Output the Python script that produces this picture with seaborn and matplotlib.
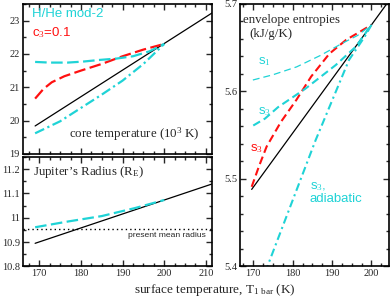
import numpy as np
import pandas as pd
import matplotlib
matplotlib.use("Agg")
import matplotlib.pyplot as plt
import seaborn as sns
from matplotlib.ticker import MultipleLocator, FuncFormatter

# ---- data ----
# core temperature (10^3 K)
tc_black_t = [169, 212]
tc_black_v = [19.84, 23.27]
tc_red_t = [169, 171, 173, 176, 180, 185, 190, 195, 200]
tc_red_v = [20.66, 20.95, 21.15, 21.33, 21.5, 21.7, 21.93, 22.13, 22.3]
tc_cyan_t = [169, 172.5, 176.8, 180.5, 184.5, 188.5, 192.5, 196.5, 200]
tc_cyan_v = [21.76, 21.74, 21.74, 21.77, 21.82, 21.86, 21.93, 22.08, 22.3]
tc_adia_t = [169, 175, 180.5, 185, 190, 195, 200]
tc_adia_v = [19.62, 19.98, 20.42, 20.78, 21.2, 21.7, 22.3]

# Jupiter radius (R_E)
r_black_t = [169, 212]
r_black_v = [10.895, 11.142]
r_cyan_t = [169, 177, 185, 193, 200]
r_cyan_v = [10.961, 10.985, 11.007, 11.04, 11.073]
r_present = 10.955

# envelope entropies (kJ/g/K)
s_black_t = [169.6, 205]
s_black_v = [5.488, 5.707]
s_red_t = [169.6, 171.5, 173.4, 177, 180.9, 184.7, 189.3, 193.6, 197, 200]
s_red_v = [5.491, 5.515, 5.537, 5.565, 5.590, 5.617, 5.643, 5.659, 5.668, 5.676]
s1_t = [169.9, 175, 181, 187, 192.6, 196.5, 200]
s1_v = [5.613, 5.619, 5.628, 5.641, 5.655, 5.664, 5.676]
s3_t = [170, 173, 176.3, 183.2, 190.9, 196, 200]
s3_v = [5.561, 5.569, 5.582, 5.603, 5.630, 5.651, 5.676]
s3ad_t = [173.0, 185.8, 194.3, 198.2, 200]
s3ad_v = [5.393, 5.544, 5.636, 5.662, 5.676]

sns.set_theme(style="ticks")
plt.rcParams['font.family'] = ['Liberation Serif', 'DejaVu Serif']
plt.rcParams['mathtext.fontset'] = 'custom'
plt.rcParams['mathtext.rm'] = 'Liberation Serif'
plt.rcParams['mathtext.it'] = 'Liberation Serif:italic'
plt.rcParams['axes.linewidth'] = 1.2

CYAN = '#1fd3d6'
RED = '#ff1010'
SANS = ['Liberation Sans', 'DejaVu Sans']

fig = plt.figure(figsize=(3.9, 2.99), dpi=100)
ax1 = fig.add_axes([0.058, 0.485, 0.486, 0.502])
ax2 = fig.add_axes([0.058, 0.109, 0.486, 0.366])
ax3 = fig.add_axes([0.615, 0.109, 0.382, 0.878])

dash_l = (0, (5.2, 2.0))
dot_l = (0, (4.5, 1.6, 1.0, 1.6))
dash_r = (0, (3.8, 2.0))
dot_r = (0, (3.8, 1.8, 1.0, 1.8))


def line(ax, t, v, color, lw, ls):
    sns.lineplot(x=t, y=v, ax=ax, color=color, lw=lw, linestyle=ls)


# core temperature
line(ax1, tc_black_t, tc_black_v, 'black', 0.9, '-')
line(ax1, tc_red_t, tc_red_v, RED, 1.6, dash_l)
line(ax1, tc_cyan_t, tc_cyan_v, CYAN, 1.6, dash_l)
line(ax1, tc_adia_t, tc_adia_v, CYAN, 1.6, dot_l)
ax1.set_xlim(166, 211.5)
ax1.set_ylim(19, 23.5)
ax1.yaxis.set_major_locator(MultipleLocator(1))
ax1.yaxis.set_minor_locator(MultipleLocator(0.5))
ax1.tick_params(labelbottom=False)
ax1.text(0.05, 0.93, 'H/He mod-2', color=CYAN, family=SANS, fontsize=9.5,
         transform=ax1.transAxes, va='center')
ax1.text(0.05, 0.81, r'c$_3$=0.1', color=RED, family=SANS, fontsize=9.5,
         transform=ax1.transAxes, va='center')
ax1.text(0.933, 0.135, r'core temperature (10$^3$ K)', fontsize=9.3,
         transform=ax1.transAxes, ha='right', va='center')

# radius
line(ax2, r_black_t, r_black_v, 'black', 0.9, '-')
line(ax2, r_cyan_t, r_cyan_v, CYAN, 1.6, dash_l)
ax2.axhline(r_present, color='black', lw=1.0, linestyle=(0, (1, 2.2)))
ax2.set_xlim(166, 211.5)
ax2.set_ylim(10.8, 11.25)
ax2.yaxis.set_major_locator(MultipleLocator(0.1))
ax2.yaxis.set_minor_locator(MultipleLocator(0.05))
ax2.yaxis.set_major_formatter(FuncFormatter(lambda v, p: f'{v:g}'))
ax2.text(0.055, 0.86, r'Jupiter’s Radius (R$_\mathrm{E}$)', fontsize=9.3,
         transform=ax2.transAxes, va='center')
ax2.text(0.965, 0.285, 'present mean radius', family=SANS, fontsize=6.1,
         transform=ax2.transAxes, ha='right', va='center')

# entropies
line(ax3, s_black_t, s_black_v, 'black', 0.9, '-')
line(ax3, s_red_t, s_red_v, RED, 1.5, dash_r)
line(ax3, s1_t, s1_v, CYAN, 0.9, (0, (5.5, 3.2)))
line(ax3, s3_t, s3_v, CYAN, 1.5, dash_r)
line(ax3, s3ad_t, s3ad_v, CYAN, 1.5, dot_r)
ax3.set_xlim(166.6, 204.4)
ax3.set_ylim(5.4, 5.7)
ax3.yaxis.set_major_locator(MultipleLocator(0.1))
ax3.yaxis.set_minor_locator(MultipleLocator(0.02))
ax3.text(0.022, 0.937, 'envelope entropies', fontsize=9.3, transform=ax3.transAxes, va='center')
ax3.text(0.067, 0.887, '(kJ/g/K)', fontsize=9.3, transform=ax3.transAxes, va='center')
ax3.text(0.121, 0.779, r's$_1$', color=CYAN, family=SANS, fontsize=9.5, transform=ax3.transAxes, va='center')
ax3.text(0.121, 0.588, r's$_3$', color=CYAN, family=SANS, fontsize=9.5, transform=ax3.transAxes, va='center')
ax3.text(0.067, 0.45, r's$_3$', color=RED, family=SANS, fontsize=9.5, transform=ax3.transAxes, va='center')
ax3.text(0.47, 0.303, r's$_3$,', color=CYAN, family=SANS, fontsize=9.5, transform=ax3.transAxes, va='center')
ax3.text(0.47, 0.255, 'adiabatic', color=CYAN, family=SANS, fontsize=9.5, transform=ax3.transAxes, va='center')

for ax in (ax1, ax2, ax3):
    ax.xaxis.set_major_locator(MultipleLocator(10))
    ax.xaxis.set_minor_locator(MultipleLocator(2.5))
    ax.tick_params(which='both', top=True, right=True, direction='in', labelsize=7.5, pad=2)
    ax.tick_params(which='major', length=4, width=1)
    ax.tick_params(which='minor', length=2.5, width=1)
    ax.set_xlabel('')
    ax.set_ylabel('')
    for s in ax.spines.values():
        s.set_color('black')

fig.text(0.55, 0.03, r'surface temperature, T$_\mathrm{1\ bar}$ (K)', ha='center', va='center', fontsize=9.5)

fig.savefig('out.png', dpi=100)
